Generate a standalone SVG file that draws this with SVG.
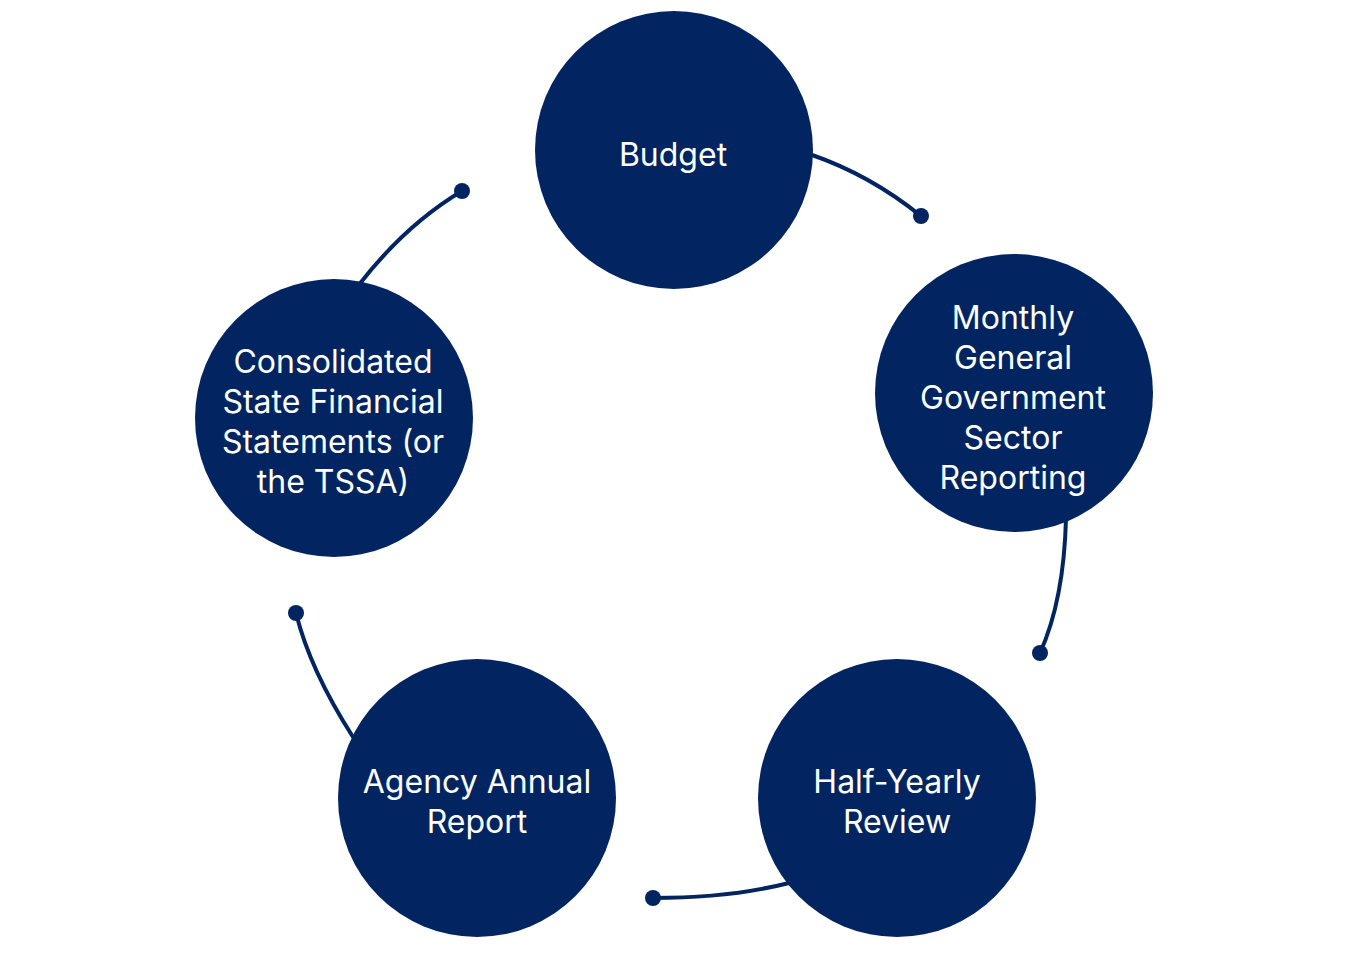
<svg xmlns="http://www.w3.org/2000/svg" width="1349" height="956" viewBox="0 0 1349 956">
<style>
.n{fill:#022561}
.t{fill:#fff;font-family:Inter,"Noto Sans",sans-serif;font-size:32px;text-anchor:middle}
.c{fill:none;stroke:#022561;stroke-width:4;stroke-linecap:round}
.d{fill:#022561}
</style>
<rect width="1349" height="956" fill="#fff"/>
<g id="connectors">
<path class="c" d="M812 155 Q870 175 921 216"/>
<circle class="d" cx="921" cy="216" r="8"/>
<path class="c" d="M1066 518 Q1064 600 1040 653"/>
<circle class="d" cx="1040" cy="653" r="8"/>
<path class="c" d="M789 883 Q730 898 653 898"/>
<circle class="d" cx="653" cy="898" r="8"/>
<path class="c" d="M353 737 Q310 670 296 613"/>
<circle class="d" cx="296" cy="613" r="8"/>
<path class="c" d="M358 286 Q405 225 462 191"/>
<circle class="d" cx="462" cy="191" r="8"/>
</g>
<g id="budget">
<circle class="n" cx="674" cy="150" r="139"/>
<text class="t" x="673" y="166">Budget</text>
</g>
<g id="monthly">
<circle class="n" cx="1014" cy="393" r="139"/>
<text class="t" x="1013" y="329">Monthly</text>
<text class="t" x="1013" y="369">General</text>
<text class="t" x="1013" y="409">Government</text>
<text class="t" x="1013" y="449">Sector</text>
<text class="t" x="1013" y="489">Reporting</text>
</g>
<g id="halfyearly">
<circle class="n" cx="897" cy="798" r="139"/>
<text class="t" x="897" y="793">Half-Yearly</text>
<text class="t" x="897" y="833">Review</text>
</g>
<g id="agency">
<circle class="n" cx="477" cy="798" r="139"/>
<text class="t" x="477" y="793">Agency Annual</text>
<text class="t" x="477" y="833">Report</text>
</g>
<g id="consolidated">
<circle class="n" cx="334" cy="418" r="139"/>
<text class="t" x="333" y="373">Consolidated</text>
<text class="t" x="333" y="413">State Financial</text>
<text class="t" x="333" y="453">Statements (or</text>
<text class="t" x="333" y="493">the TSSA)</text>
</g>
</svg>
